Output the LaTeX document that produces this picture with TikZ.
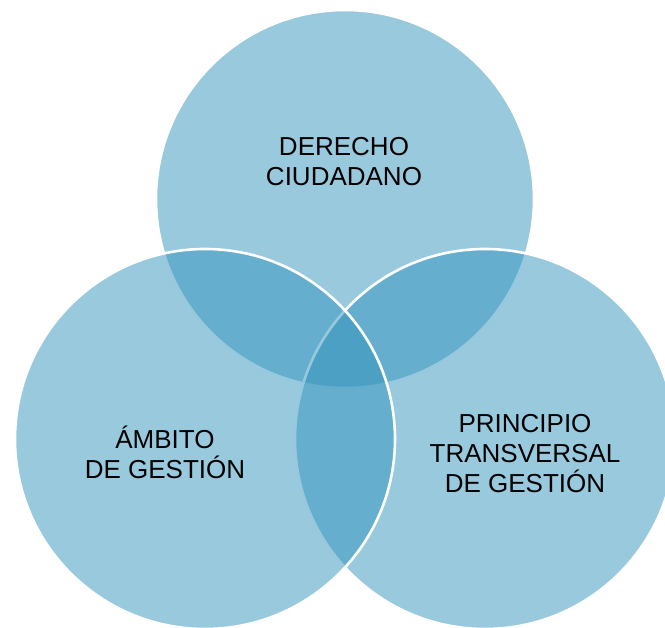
\documentclass[tikz,border=0pt]{standalone}
\usepackage{fontspec}
\setmainfont{Liberation Sans}
\usepackage{xcolor}
\definecolor{vennblue}{RGB}{50,147,188}

\begin{document}
\begin{tikzpicture}[x=1pt, y=-1pt]
	\useasboundingbox (0,0) rectangle (665,628);
	\draw[draw=white, line width=2.6pt, fill=vennblue, fill opacity=0.5] (345,199) circle (189);
	\draw[draw=white, line width=2.6pt, fill=vennblue, fill opacity=0.5] (485,439) circle (190);
	\draw[draw=white, line width=2.6pt, fill=vennblue, fill opacity=0.5] (205,439) circle (190);

	\node[black, align=center, font=\fontsize{26}{30}\selectfont] (derecho) at (344,162) {DERECHO\\CIUDADANO};
	\node[black, align=center, font=\fontsize{26}{30}\selectfont] (ambito) at (165,452) {ÁMBITO\\DE GESTIÓN};
	\node[black, align=center, font=\fontsize{26}{30}\selectfont] (principio) at (525,454) {PRINCIPIO\\TRANSVERSAL\\DE GESTIÓN};
\end{tikzpicture}
\end{document}
